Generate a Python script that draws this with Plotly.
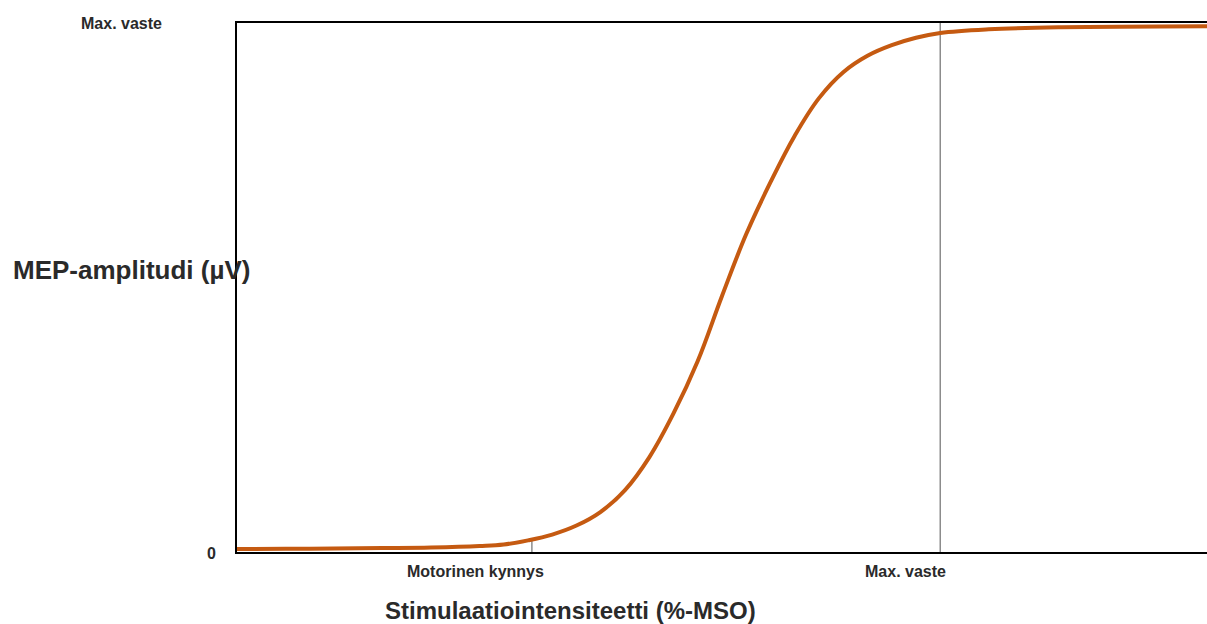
import plotly.graph_objects as go

# Stimulus intensity (relative units 0-100) and MEP amplitude (relative % of max)
intensity = [0, 5, 10, 15, 20, 25, 27.5, 30, 32.5, 35, 37.5, 40, 42.5, 45, 47.5, 50,
             52.5, 55, 57.5, 60, 62.5, 65, 67.5, 70, 72.5, 77.5, 85, 100]
amplitude = [0.57, 0.60, 0.66, 0.74, 0.85, 1.13, 1.42, 2.2, 3.3, 5.0, 7.6, 11.7, 17.9,
             26.2, 36.1, 48.4, 60.1, 69.9, 78.7, 85.8, 90.7, 93.8, 95.8, 97.2, 98.1,
             98.8, 99.2, 99.4]

# Reference markers on the x axis
ref_x = [30.4, 72.5]
ref_top = [2.35, 100]
x_tick_labels = ["Motorinen kynnys", "Max. vaste"]
y_tick_labels = ["0", "Max. vaste"]

FONT = "Liberation Sans, Arial, Helvetica, sans-serif"
TXT = "#2a2a2a"

fig = go.Figure()

for xv, top in zip(ref_x, ref_top):
    fig.add_trace(go.Scatter(x=[xv, xv], y=[0, top], mode="lines",
                             line=dict(color="#8c8c8c", width=1.5),
                             hoverinfo="skip", showlegend=False))

fig.add_trace(go.Scatter(x=intensity, y=amplitude, mode="lines",
                         line=dict(color="#C55A11", width=4, shape="spline", smoothing=1.1),
                         showlegend=False))

fig.update_layout(
    width=1207, height=624,
    margin=dict(l=237, r=0, t=23, b=72),
    paper_bgcolor="white", plot_bgcolor="white",
    font=dict(family=FONT, color=TXT),
    xaxis=dict(range=[0, 100], showgrid=False, zeroline=False, showticklabels=False,
               showline=True, linecolor="black", linewidth=2, mirror=True, ticks=""),
    yaxis=dict(range=[0, 100], showgrid=False, zeroline=False, showticklabels=False,
               showline=True, linecolor="black", linewidth=2, mirror=False, ticks=""),
)

ann = []
# x-axis labels under the reference lines
for xv, lab, shift in zip(ref_x, x_tick_labels, [-56, -35]):
    ann.append(dict(x=xv, y=-0.0378, xref="x", yref="paper", text=f"<b>{lab}</b>",
                    showarrow=False, xshift=shift, xanchor="center", yanchor="middle",
                    font=dict(size=16, family=FONT, color=TXT)))
# y-axis labels
ann.append(dict(x=-0.0263, y=-0.002, xref="paper", yref="paper", text=f"<b>{y_tick_labels[0]}</b>",
                showarrow=False, xanchor="center", yanchor="middle",
                font=dict(size=16, family=FONT, color=TXT)))
ann.append(dict(x=-0.1186, y=1.0, xref="paper", yref="paper", text=f"<b>{y_tick_labels[1]}</b>",
                showarrow=False, xanchor="center", yanchor="middle",
                font=dict(size=16, family=FONT, color=TXT)))
# axis titles
ann.append(dict(x=-0.1086, y=0.533, xref="paper", yref="paper", text="<b>MEP-amplitudi (µV)</b>",
                showarrow=False, xanchor="center", yanchor="middle",
                font=dict(size=26, family=FONT, color=TXT)))
ann.append(dict(x=0.344, y=-0.110, xref="paper", yref="paper",
                text="<b>Stimulaatiointensiteetti (%-MSO)</b>",
                showarrow=False, xanchor="center", yanchor="middle",
                font=dict(size=24, family=FONT, color=TXT)))
fig.update_layout(annotations=ann)

fig.write_html("out.html")
